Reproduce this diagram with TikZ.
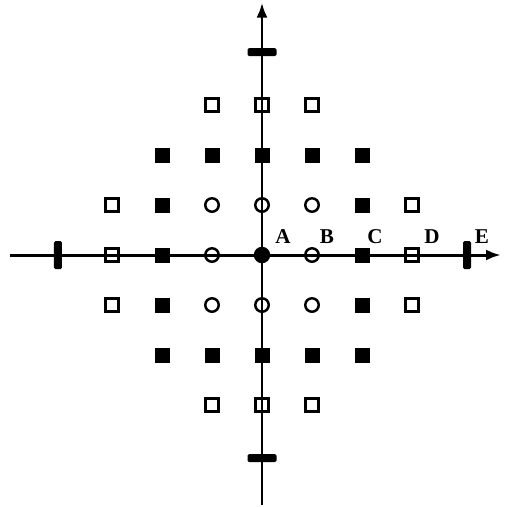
\documentclass[tikz,border=0pt]{standalone}
\usepackage{fontspec}
\setmainfont{Liberation Serif}
\usetikzlibrary{arrows.meta}
\begin{document}
\begin{tikzpicture}[
  font=\fontsize{12}{14}\selectfont\bfseries,
  axis/.style={line width=1.7pt},
  axisarrow/.style={axis, -{Latex[length=3mm, width=2.2mm]}},
  opensq/.style={draw, line width=1.3pt, minimum size=2.6mm, inner sep=0pt},
  fullsq/.style={fill, minimum size=3mm, inner sep=0pt},
  opencirc/.style={circle, draw, line width=1.4pt, minimum size=2.7mm, inner sep=0pt},
  fullcirc/.style={circle, fill, minimum size=3.3mm, inner sep=0pt},
  htick/.style={fill, rounded corners=0.3mm, minimum width=5.8mm, minimum height=1.6mm, inner sep=0pt},
  vtick/.style={fill, rounded corners=0.3mm, minimum width=1.6mm, minimum height=5.6mm, inner sep=0pt},
  lbl/.style={inner sep=0pt}
]
  \useasboundingbox (-5.24,-5.02) rectangle (4.98,5.10);

  % axes
  \coordinate (xl) at (-5.04,0);
  \coordinate (xr) at (4.78,0);
  \coordinate (yb) at (0,-5.0);
  \coordinate (yt) at (0,5.05);
  \draw[axisarrow] (xl) -- (xr);
  \draw[axisarrow] (yb) -- (yt);

  % ticks
  \node[htick] (tt) at (0,4.06) {};
  \node[htick] (tb) at (0,-4.06) {};
  \node[vtick] (tl) at (-4.08,0) {};
  \node[vtick] (tr) at (4.1,0) {};

  % outer ring of open squares
  \foreach \x/\y in {-1/3, 0/3, 1/3, -3/1, 3/1, -3/0, 3/0, -3/-1, 3/-1, -1/-3, 0/-3, 1/-3}
    \node[opensq] (o\x\y) at (\x,\y) {};
  % filled squares
  \foreach \x/\y in {-2/2, -1/2, 0/2, 1/2, 2/2, -2/1, 2/1, -2/0, 2/0, -2/-1, 2/-1,
                     -2/-2, -1/-2, 0/-2, 1/-2, 2/-2}
    \node[fullsq] (f\x\y) at (\x,\y) {};
  % inner circles
  \foreach \x/\y in {-1/1, 0/1, 1/1, -1/0, 1/0, -1/-1, 0/-1, 1/-1}
    \node[opencirc] (c\x\y) at (\x,\y) {};
  \node[fullcirc] (A) at (0,0) {};

  % labels
  \node[lbl] (la) at (0.42,0.37) {A};
  \node[lbl] (lb) at (1.3,0.37) {B};
  \node[lbl] (lc) at (2.26,0.37) {C};
  \node[lbl] (ld) at (3.4,0.37) {D};
  \node[lbl] (le) at (4.4,0.37) {E};
\end{tikzpicture}
\end{document}
